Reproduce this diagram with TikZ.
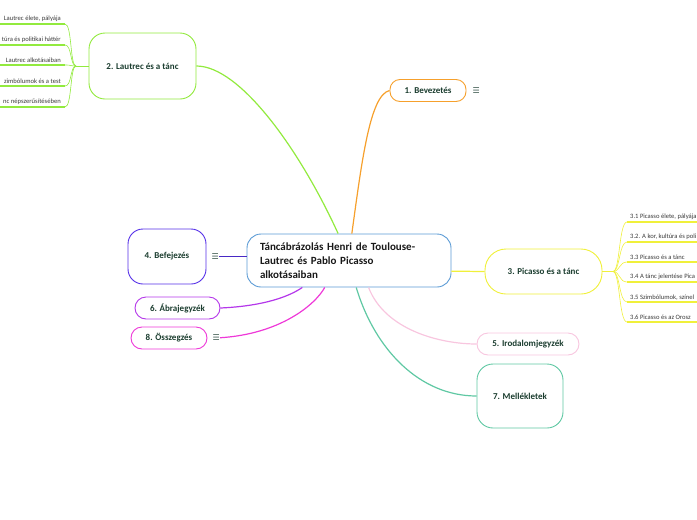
\documentclass[tikz,border=0pt]{standalone}
\usepackage{fontspec}
\setmainfont{Carlito}
\newfontfamily\iconfont{DejaVu Sans}
\usetikzlibrary{positioning}
\definecolor{mainblue}{HTML}{5B9BD5}
\definecolor{introorange}{HTML}{F6A02C}
\definecolor{lautrecgreen}{HTML}{92EA3E}
\definecolor{picassoyellow}{HTML}{F0F03A}
\definecolor{befejblue}{HTML}{5530E8}
\definecolor{abrapurple}{HTML}{B437EA}
\definecolor{osszegmag}{HTML}{EE38D8}
\definecolor{irodpink}{HTML}{F8C6DF}
\definecolor{mellekteal}{HTML}{5FC8A3}
\definecolor{labelgreen}{HTML}{1B3D2F}
\definecolor{leafgray}{HTML}{3A3A3A}
\definecolor{icongray}{HTML}{3E5A50}
\tikzset{
  topic/.style={draw, line width=0.9pt, fill=white, inner sep=0pt, align=center,
    text=labelgreen, font=\bfseries\fontsize{9}{10}\selectfont},
  leaf/.style={inner xsep=0pt, inner ysep=1.8pt, text=leafgray,
    font=\fontsize{6.6}{7}\selectfont},
  menu/.style={text=icongray, inner sep=0pt, font=\iconfont\fontsize{8}{8}\selectfont},
  branch/.style={line width=1.2pt},
  twig/.style={line width=0.6pt},
  underline/.style={line width=1.6pt}
}
\begin{document}
\begin{tikzpicture}[x=1pt,y=-1pt]
\useasboundingbox (0,0) rectangle (697,520);

% central topic
\node[topic, draw=mainblue, rounded corners=14, minimum width=204, minimum height=53,
  text width=178, inner xsep=13pt, align=left, text=black!90,
  font=\bfseries\fontsize{11}{14}\selectfont] (main) at (349,260.5)
  {Táncábrázolás Henri de Toulouse-\\Lautrec és Pablo Picasso\\alkotásaiban};

% main topics
\node[topic, draw=introorange, rounded corners=10, minimum width=76, minimum height=22] (intro) at (428,90.5) {1. Bevezetés};
\node[menu, right=6pt of intro] (introicon) {☰};
\node[topic, draw=lautrecgreen, rounded corners=16, minimum width=107, minimum height=66] (lautrec) at (142.5,66) {2. Lautrec és a tánc};
\node[topic, draw=picassoyellow, rounded corners=21, minimum width=117, minimum height=45] (picasso) at (543.5,271.5) {3. Picasso és a tánc};
\node[topic, draw=befejblue, rounded corners=15, minimum width=78, minimum height=55] (befejezes) at (167,256.5) {4. Befejezés};
\node[menu, right=5pt of befejezes] (befejicon) {☰};
\node[topic, draw=irodpink, rounded corners=11, minimum width=102, minimum height=22] (irodalom) at (528,344) {5. Irodalomjegyzék};
\node[topic, draw=abrapurple, rounded corners=11, minimum width=85, minimum height=22] (abra) at (177.5,308) {6. Ábrajegyzék};
\node[topic, draw=mellekteal, rounded corners=16, minimum width=86, minimum height=64] (mellek) at (520,396) {7. Mellékletek};
\node[topic, draw=osszegmag, rounded corners=11, minimum width=76, minimum height=22] (osszeg) at (169,338) {8. Összegzés};
\node[menu, right=5pt of osszeg] (osszegicon) {☰};

% branches
\draw[branch, introorange] (main.84) .. controls (362,160) and (370,95) .. (intro.west);
\draw[branch, lautrecgreen] (main.112) .. controls (300,150) and (240,66) .. (lautrec.east);
\draw[branch, picassoyellow] (main.-6) .. controls (470,271) and (465,271.5) .. (picasso.west);
\draw[branch, befejblue!85!black] (befejicon) -- (befejicon -| main.west);
\draw[branch, abrapurple] (abra.east) .. controls (265,306) and (290,296) .. (main.-150);
\draw[branch, osszegmag] (osszegicon) .. controls (280,334) and (315,305) .. (main.-132);
\draw[branch, irodpink] (main.-54) .. controls (385,330) and (440,344) .. (irodalom.west);
\draw[branch, mellekteal] (main.-75) .. controls (375,350) and (420,396) .. (mellek.west);

% subtopics of 2.
\coordinate (ljunc) at (76,66);
\draw[twig, lautrecgreen] (lautrec.west) -- (ljunc);
\foreach \n/\y/\t in {1/24/{Lautrec élete, pályája}, 2/45/{túra és politikai háttér},
    3/65/{Lautrec alkotásaiban}, 4/86/{zimbólumok és a test}, 5/107/{nc népszerűsítésében}} {
  \node[leaf, anchor=south east] (l\n) at (65,\y) {\hbox to 65pt{\hss\t\hskip4pt}};
  \draw[underline, lautrecgreen] (l\n.south west) -- (l\n.south east);
  \draw[twig, lautrecgreen] (ljunc) .. controls (70,66) and (72,\y) .. (l\n.south east);
}

% subtopics of 3.
\coordinate (rjunc) at (613,271.5);
\draw[twig, picassoyellow] (picasso.east) -- (rjunc);
\foreach \n/\y/\t in {1/222/{3.1 Picasso élete, pályája}, 2/242/{3.2. A kor, kultúra és poli},
    3/262/{3.3 Picasso és a tánc}, 4/282/{3.4 A tánc jelentése Pica},
    5/302/{3.5 Szimbólumok, színel}, 6/322/{3.6 Picasso és az Orosz}} {
  \node[leaf, anchor=south west] (r\n) at (627,\y) {\hbox to 70pt{\hskip3pt\t\hss}};
  \draw[underline, picassoyellow] (r\n.south west) -- (r\n.south east);
  \draw[twig, picassoyellow] (rjunc) .. controls (620,271.5) and (619,\y) .. (r\n.south west);
}
\end{tikzpicture}
\end{document}
